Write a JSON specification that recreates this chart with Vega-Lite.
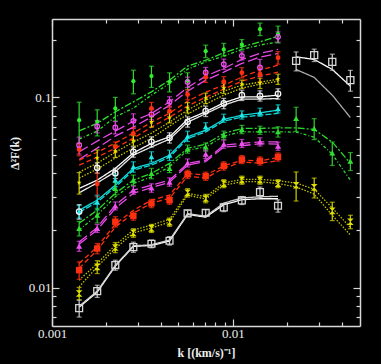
{
"$schema":"https://vega.github.io/schema/vega-lite/v6.json",
"width":308,"height":307,
"autosize":{"type":"none"},
"padding":{"left":52,"top":19,"right":21,"bottom":38},
"background":"#000000",
"datasets":{
"pts":[
{"s":"G1","k":0.001413,"v":0.0757,"e":0.0184},{"s":"G1","k":0.001778,"v":0.0742,"e":0.0116},{"s":"G1","k":0.002239,"v":0.0873,"e":0.0124},{"s":"G1","k":0.002818,"v":0.1213,"e":0.0172},{"s":"G1","k":0.003548,"v":0.1289,"e":0.0165},{"s":"G1","k":0.004467,"v":0.1203,"e":0.0138},{"s":"G1","k":0.005623,"v":0.1218,"e":0.0124},{"s":"G1","k":0.007079,"v":0.1743,"e":0.0131},{"s":"G1","k":0.008913,"v":0.1779,"e":0.0134},{"s":"G1","k":0.01122,"v":0.1886,"e":0.0118},{"s":"G1","k":0.01413,"v":0.2274,"e":0.0171},{"s":"G1","k":0.01778,"v":0.2141,"e":0.0217},
{"s":"M1","k":0.001413,"v":0.056,"e":0.0057},{"s":"M1","k":0.001778,"v":0.0702,"e":0.0053},{"s":"M1","k":0.002239,"v":0.0693,"e":0.0052},{"s":"M1","k":0.002818,"v":0.0751,"e":0.0066},{"s":"M1","k":0.003548,"v":0.0812,"e":0.0051},{"s":"M1","k":0.004467,"v":0.0945,"e":0.0059},{"s":"M1","k":0.005623,"v":0.1199,"e":0.0075},{"s":"M1","k":0.007079,"v":0.1348,"e":0.0084},{"s":"M1","k":0.008913,"v":0.149,"e":0.0093},{"s":"M1","k":0.01122,"v":0.1647,"e":0.0082},{"s":"M1","k":0.01413,"v":0.1432,"e":0.0145},{"s":"M1","k":0.01778,"v":0.2072,"e":0.0129},
{"s":"R1","k":0.001413,"v":0.0532,"e":0.004},{"s":"R1","k":0.001778,"v":0.035,"e":0.005},{"s":"R1","k":0.002239,"v":0.0548,"e":0.0034},{"s":"R1","k":0.002818,"v":0.0645,"e":0.0048},{"s":"R1","k":0.003548,"v":0.0873,"e":0.0066},{"s":"R1","k":0.004467,"v":0.0844,"e":0.0053},{"s":"R1","k":0.005623,"v":0.1033,"e":0.0064},{"s":"R1","k":0.007079,"v":0.1273,"e":0.0079},{"s":"R1","k":0.008913,"v":0.1206,"e":0.0075},{"s":"R1","k":0.01122,"v":0.1344,"e":0.0084},{"s":"R1","k":0.01413,"v":0.132,"e":0.0119},{"s":"R1","k":0.01778,"v":0.1611,"e":0.0121},
{"s":"Y1","k":0.001413,"v":0.0356,"e":0.0046},{"s":"Y1","k":0.001778,"v":0.0479,"e":0.0049},{"s":"Y1","k":0.002239,"v":0.0521,"e":0.0039},{"s":"Y1","k":0.002818,"v":0.0591,"e":0.0037},{"s":"Y1","k":0.003548,"v":0.0742,"e":0.0046},{"s":"Y1","k":0.004467,"v":0.0782,"e":0.0049},{"s":"Y1","k":0.005623,"v":0.0881,"e":0.0055},{"s":"Y1","k":0.007079,"v":0.0988,"e":0.0062},{"s":"Y1","k":0.008913,"v":0.1115,"e":0.007},{"s":"Y1","k":0.01122,"v":0.117,"e":0.0058},{"s":"Y1","k":0.01413,"v":0.1184,"e":0.0074},{"s":"Y1","k":0.01778,"v":0.1243,"e":0.0077},
{"s":"W1","k":0.001413,"v":0.0251,"e":0.0022},{"s":"W1","k":0.001778,"v":0.0426,"e":0.0027},{"s":"W1","k":0.002239,"v":0.0399,"e":0.0025},{"s":"W1","k":0.002818,"v":0.0516,"e":0.0032},{"s":"W1","k":0.003548,"v":0.0583,"e":0.0036},{"s":"W1","k":0.004467,"v":0.0612,"e":0.0038},{"s":"W1","k":0.005623,"v":0.0742,"e":0.0046},{"s":"W1","k":0.007079,"v":0.0844,"e":0.0053},{"s":"W1","k":0.008913,"v":0.0927,"e":0.0058},{"s":"W1","k":0.01122,"v":0.1024,"e":0.0064},{"s":"W1","k":0.01413,"v":0.1016,"e":0.0063},{"s":"W1","k":0.01778,"v":0.1041,"e":0.0065},
{"s":"C1","k":0.001413,"v":0.0251,"e":0.0019},{"s":"C1","k":0.001778,"v":0.0281,"e":0.0025},{"s":"C1","k":0.002239,"v":0.0367,"e":0.0028},{"s":"C1","k":0.002818,"v":0.0431,"e":0.0027},{"s":"C1","k":0.003548,"v":0.0487,"e":0.003},{"s":"C1","k":0.004467,"v":0.0496,"e":0.0031},{"s":"C1","k":0.005623,"v":0.0624,"e":0.0039},{"s":"C1","k":0.007079,"v":0.0699,"e":0.0035},{"s":"C1","k":0.008913,"v":0.0776,"e":0.0038},{"s":"C1","k":0.01122,"v":0.0807,"e":0.004},{"s":"C1","k":0.01413,"v":0.0834,"e":0.0041},{"s":"C1","k":0.01778,"v":0.0868,"e":0.0043},
{"s":"G2","k":0.001413,"v":0.0205,"e":0.0018},{"s":"G2","k":0.001778,"v":0.024,"e":0.0021},{"s":"G2","k":0.002239,"v":0.0332,"e":0.0025},{"s":"G2","k":0.002818,"v":0.0367,"e":0.0023},{"s":"G2","k":0.003548,"v":0.0398,"e":0.0025},{"s":"G2","k":0.004467,"v":0.0423,"e":0.0021},{"s":"G2","k":0.005623,"v":0.0534,"e":0.0026},{"s":"G2","k":0.007079,"v":0.0548,"e":0.0027},{"s":"G2","k":0.008913,"v":0.0632,"e":0.0031},{"s":"G2","k":0.01122,"v":0.0677,"e":0.0034},{"s":"G2","k":0.01413,"v":0.0671,"e":0.0033},{"s":"G2","k":0.01778,"v":0.0658,"e":0.0041},{"s":"G2","k":0.02239,"v":0.0773,"e":0.0112},{"s":"G2","k":0.02818,"v":0.0685,"e":0.0086},{"s":"G2","k":0.03548,"v":0.051,"e":0.0072},{"s":"G2","k":0.04467,"v":0.0462,"e":0.005},
{"s":"M2","k":0.001413,"v":0.01653,"e":0.001},{"s":"M2","k":0.001778,"v":0.0205,"e":0.001},{"s":"M2","k":0.002239,"v":0.0269,"e":0.0013},{"s":"M2","k":0.002818,"v":0.0325,"e":0.0016},{"s":"M2","k":0.003548,"v":0.0334,"e":0.0017},{"s":"M2","k":0.004467,"v":0.0359,"e":0.0018},{"s":"M2","k":0.005623,"v":0.0452,"e":0.0022},{"s":"M2","k":0.007079,"v":0.0502,"e":0.0025},{"s":"M2","k":0.008913,"v":0.0567,"e":0.0028},{"s":"M2","k":0.01122,"v":0.0572,"e":0.0028},{"s":"M2","k":0.01413,"v":0.0583,"e":0.0029},{"s":"M2","k":0.01778,"v":0.0553,"e":0.0027},
{"s":"R2","k":0.001413,"v":0.01237,"e":0.0013},{"s":"R2","k":0.001778,"v":0.01607,"e":0.001},{"s":"R2","k":0.002239,"v":0.0222,"e":0.0014},{"s":"R2","k":0.002818,"v":0.0238,"e":0.0012},{"s":"R2","k":0.003548,"v":0.0277,"e":0.0014},{"s":"R2","k":0.004467,"v":0.0288,"e":0.0014},{"s":"R2","k":0.005623,"v":0.0394,"e":0.002},{"s":"R2","k":0.007079,"v":0.0385,"e":0.0019},{"s":"R2","k":0.008913,"v":0.0436,"e":0.0022},{"s":"R2","k":0.01122,"v":0.0471,"e":0.0023},{"s":"R2","k":0.01413,"v":0.0463,"e":0.0023},{"s":"R2","k":0.01778,"v":0.0486,"e":0.0024},
{"s":"Y2","k":0.001413,"v":0.00933,"e":0.0007},{"s":"Y2","k":0.001778,"v":0.01287,"e":0.001},{"s":"Y2","k":0.002239,"v":0.01627,"e":0.001},{"s":"Y2","k":0.002818,"v":0.0194,"e":0.001},{"s":"Y2","k":0.003548,"v":0.0205,"e":0.001},{"s":"Y2","k":0.004467,"v":0.0221,"e":0.0011},{"s":"Y2","k":0.005623,"v":0.0315,"e":0.0016},{"s":"Y2","k":0.007079,"v":0.0294,"e":0.0015},{"s":"Y2","k":0.008913,"v":0.0352,"e":0.0017},{"s":"Y2","k":0.01122,"v":0.0367,"e":0.0018},{"s":"Y2","k":0.01413,"v":0.0367,"e":0.0018},{"s":"Y2","k":0.01778,"v":0.0352,"e":0.0017},{"s":"Y2","k":0.02239,"v":0.0345,"e":0.006},{"s":"Y2","k":0.02818,"v":0.0336,"e":0.004},{"s":"Y2","k":0.03548,"v":0.0253,"e":0.0028},{"s":"Y2","k":0.04467,"v":0.0222,"e":0.0018},
{"s":"W2","k":0.001413,"v":0.00782,"e":0.0008},{"s":"W2","k":0.001778,"v":0.0096,"e":0.0007},{"s":"W2","k":0.002239,"v":0.01315,"e":0.0008},{"s":"W2","k":0.002818,"v":0.01634,"e":0.001},{"s":"W2","k":0.003548,"v":0.01701,"e":0.0008},{"s":"W2","k":0.004467,"v":0.01764,"e":0.0009},{"s":"W2","k":0.005623,"v":0.02455,"e":0.0009},{"s":"W2","k":0.007079,"v":0.02474,"e":0.0009},{"s":"W2","k":0.008913,"v":0.02638,"e":0.0013},{"s":"W2","k":0.01122,"v":0.02871,"e":0.0014},{"s":"W2","k":0.01413,"v":0.03175,"e":0.002},{"s":"W2","k":0.01778,"v":0.02692,"e":0.002},
{"s":"W3","k":0.02239,"v":0.155,"e":0.0177},{"s":"W3","k":0.02818,"v":0.1661,"e":0.0124},{"s":"W3","k":0.03548,"v":0.1532,"e":0.0148},{"s":"W3","k":0.04467,"v":0.1228,"e":0.0154}
],
"lns":[
{"l":"G1a","k":0.001413,"v":0.0666},{"l":"G1a","k":0.001778,"v":0.0728},{"l":"G1a","k":0.002239,"v":0.0838},{"l":"G1a","k":0.002818,"v":0.0945},{"l":"G1a","k":0.003548,"v":0.1066},{"l":"G1a","k":0.004467,"v":0.1228},{"l":"G1a","k":0.005623,"v":0.1455},{"l":"G1a","k":0.007079,"v":0.1563},{"l":"G1a","k":0.008913,"v":0.1708},{"l":"G1a","k":0.01122,"v":0.1836},{"l":"G1a","k":0.01413,"v":0.195},{"l":"G1a","k":0.01778,"v":0.2089},
{"l":"G1b","k":0.001413,"v":0.0602},{"l":"G1b","k":0.001778,"v":0.0663},{"l":"G1b","k":0.002239,"v":0.0788},{"l":"G1b","k":0.002818,"v":0.0876},{"l":"G1b","k":0.003548,"v":0.1024},{"l":"G1b","k":0.004467,"v":0.118},{"l":"G1b","k":0.005623,"v":0.1402},{"l":"G1b","k":0.007079,"v":0.1532},{"l":"G1b","k":0.008913,"v":0.1641},{"l":"G1b","k":0.01122,"v":0.1779},{"l":"G1b","k":0.01413,"v":0.1875},{"l":"G1b","k":0.01778,"v":0.195},
{"l":"M1a","k":0.001413,"v":0.0516},{"l":"M1a","k":0.001778,"v":0.0588},{"l":"M1a","k":0.002239,"v":0.0663},{"l":"M1a","k":0.002818,"v":0.0748},{"l":"M1a","k":0.003548,"v":0.0821},{"l":"M1a","k":0.004467,"v":0.0945},{"l":"M1a","k":0.005623,"v":0.1124},{"l":"M1a","k":0.007079,"v":0.1289},{"l":"M1a","k":0.008913,"v":0.1415},{"l":"M1a","k":0.01122,"v":0.1577},{"l":"M1a","k":0.01413,"v":0.1696},{"l":"M1a","k":0.01778,"v":0.1779},
{"l":"M1b","k":0.001413,"v":0.0471},{"l":"M1b","k":0.001778,"v":0.054},{"l":"M1b","k":0.002239,"v":0.0624},{"l":"M1b","k":0.002818,"v":0.0696},{"l":"M1b","k":0.003548,"v":0.0788},{"l":"M1b","k":0.004467,"v":0.0908},{"l":"M1b","k":0.005623,"v":0.1075},{"l":"M1b","k":0.007079,"v":0.1228},{"l":"M1b","k":0.008913,"v":0.1353},{"l":"M1b","k":0.01122,"v":0.1502},{"l":"M1b","k":0.01413,"v":0.1622},{"l":"M1b","k":0.01778,"v":0.1696},
{"l":"R1a","k":0.001413,"v":0.0467},{"l":"R1a","k":0.001778,"v":0.0514},{"l":"R1a","k":0.002239,"v":0.0574},{"l":"R1a","k":0.002818,"v":0.0648},{"l":"R1a","k":0.003548,"v":0.0739},{"l":"R1a","k":0.004467,"v":0.0824},{"l":"R1a","k":0.005623,"v":0.0953},{"l":"R1a","k":0.007079,"v":0.1062},{"l":"R1a","k":0.008913,"v":0.1156},{"l":"R1a","k":0.01122,"v":0.1273},{"l":"R1a","k":0.01413,"v":0.1386},{"l":"R1a","k":0.01778,"v":0.1472},
{"l":"R1b","k":0.001413,"v":0.044},{"l":"R1b","k":0.001778,"v":0.0484},{"l":"R1b","k":0.002239,"v":0.054},{"l":"R1b","k":0.002818,"v":0.0609},{"l":"R1b","k":0.003548,"v":0.0696},{"l":"R1b","k":0.004467,"v":0.0785},{"l":"R1b","k":0.005623,"v":0.0897},{"l":"R1b","k":0.007079,"v":0.1},{"l":"R1b","k":0.008913,"v":0.1101},{"l":"R1b","k":0.01122,"v":0.1213},{"l":"R1b","k":0.01413,"v":0.1289},{"l":"R1b","k":0.01778,"v":0.1353},
{"l":"Y1a","k":0.001413,"v":0.0404},{"l":"Y1a","k":0.001778,"v":0.045},{"l":"Y1a","k":0.002239,"v":0.0514},{"l":"Y1a","k":0.002818,"v":0.0581},{"l":"Y1a","k":0.003548,"v":0.0648},{"l":"Y1a","k":0.004467,"v":0.0739},{"l":"Y1a","k":0.005623,"v":0.0855},{"l":"Y1a","k":0.007079,"v":0.0965},{"l":"Y1a","k":0.008913,"v":0.1075},{"l":"Y1a","k":0.01122,"v":0.1156},{"l":"Y1a","k":0.01413,"v":0.1199},{"l":"Y1a","k":0.01778,"v":0.1243},
{"l":"Y1b","k":0.001413,"v":0.0376},{"l":"Y1b","k":0.001778,"v":0.0419},{"l":"Y1b","k":0.002239,"v":0.0479},{"l":"Y1b","k":0.002818,"v":0.054},{"l":"Y1b","k":0.003548,"v":0.0609},{"l":"Y1b","k":0.004467,"v":0.0705},{"l":"Y1b","k":0.005623,"v":0.0814},{"l":"Y1b","k":0.007079,"v":0.0919},{"l":"Y1b","k":0.008913,"v":0.1024},{"l":"Y1b","k":0.01122,"v":0.1115},{"l":"Y1b","k":0.01413,"v":0.117},{"l":"Y1b","k":0.01778,"v":0.1213},
{"l":"W1a","k":0.001413,"v":0.0332},{"l":"W1a","k":0.001778,"v":0.0367},{"l":"W1a","k":0.002239,"v":0.0423},{"l":"W1a","k":0.002818,"v":0.051},{"l":"W1a","k":0.003548,"v":0.0572},{"l":"W1a","k":0.004467,"v":0.0619},{"l":"W1a","k":0.005623,"v":0.0764},{"l":"W1a","k":0.007079,"v":0.0838},{"l":"W1a","k":0.008913,"v":0.0934},{"l":"W1a","k":0.01122,"v":0.1004},{"l":"W1a","k":0.01413,"v":0.1004},{"l":"W1a","k":0.01778,"v":0.1024},
{"l":"W1b","k":0.001413,"v":0.0315},{"l":"W1b","k":0.001778,"v":0.0355},{"l":"W1b","k":0.002239,"v":0.0406},{"l":"W1b","k":0.002818,"v":0.0496},{"l":"W1b","k":0.003548,"v":0.0548},{"l":"W1b","k":0.004467,"v":0.0602},{"l":"W1b","k":0.005623,"v":0.0739},{"l":"W1b","k":0.007079,"v":0.0819},{"l":"W1b","k":0.008913,"v":0.0908},{"l":"W1b","k":0.01122,"v":0.0976},{"l":"W1b","k":0.01413,"v":0.0976},{"l":"W1b","k":0.01778,"v":0.0984},
{"l":"C1a","k":0.001413,"v":0.0255},{"l":"C1a","k":0.001778,"v":0.0288},{"l":"C1a","k":0.002239,"v":0.0345},{"l":"C1a","k":0.002818,"v":0.0423},{"l":"C1a","k":0.003548,"v":0.0449},{"l":"C1a","k":0.004467,"v":0.0496},{"l":"C1a","k":0.005623,"v":0.0619},{"l":"C1a","k":0.007079,"v":0.0671},{"l":"C1a","k":0.008913,"v":0.0764},{"l":"C1a","k":0.01122,"v":0.0804},{"l":"C1a","k":0.01413,"v":0.0827},{"l":"C1a","k":0.01778,"v":0.0855},
{"l":"C1b","k":0.001413,"v":0.0249},{"l":"C1b","k":0.001778,"v":0.0281},{"l":"C1b","k":0.002239,"v":0.0337},{"l":"C1b","k":0.002818,"v":0.0414},{"l":"C1b","k":0.003548,"v":0.044},{"l":"C1b","k":0.004467,"v":0.0484},{"l":"C1b","k":0.005623,"v":0.0606},{"l":"C1b","k":0.007079,"v":0.0658},{"l":"C1b","k":0.008913,"v":0.0748},{"l":"C1b","k":0.01122,"v":0.0785},{"l":"C1b","k":0.01413,"v":0.0804},{"l":"C1b","k":0.01778,"v":0.0821},
{"l":"G2a","k":0.001413,"v":0.0218},{"l":"G2a","k":0.001778,"v":0.0255},{"l":"G2a","k":0.002239,"v":0.0313},{"l":"G2a","k":0.002818,"v":0.0367},{"l":"G2a","k":0.003548,"v":0.0398},{"l":"G2a","k":0.004467,"v":0.0449},{"l":"G2a","k":0.005623,"v":0.0538},{"l":"G2a","k":0.007079,"v":0.0567},{"l":"G2a","k":0.008913,"v":0.0645},{"l":"G2a","k":0.01122,"v":0.0685},{"l":"G2a","k":0.01413,"v":0.0685},{"l":"G2a","k":0.01778,"v":0.069},{"l":"G2a","k":0.02239,"v":0.069},{"l":"G2a","k":0.02818,"v":0.0677},{"l":"G2a","k":0.03548,"v":0.0581},{"l":"G2a","k":0.04467,"v":0.045},
{"l":"G2b","k":0.001413,"v":0.0201},{"l":"G2b","k":0.001778,"v":0.024},{"l":"G2b","k":0.002239,"v":0.03},{"l":"G2b","k":0.002818,"v":0.0352},{"l":"G2b","k":0.003548,"v":0.0382},{"l":"G2b","k":0.004467,"v":0.0431},{"l":"G2b","k":0.005623,"v":0.0527},{"l":"G2b","k":0.007079,"v":0.0548},{"l":"G2b","k":0.008913,"v":0.0624},{"l":"G2b","k":0.01122,"v":0.0658},{"l":"G2b","k":0.01413,"v":0.0658},{"l":"G2b","k":0.01778,"v":0.0658},{"l":"G2b","k":0.02239,"v":0.0655},{"l":"G2b","k":0.02818,"v":0.0617},{"l":"G2b","k":0.03548,"v":0.0502},{"l":"G2b","k":0.04467,"v":0.0367},
{"l":"M2a","k":0.001413,"v":0.0174},{"l":"M2a","k":0.001778,"v":0.0207},{"l":"M2a","k":0.002239,"v":0.0271},{"l":"M2a","k":0.002818,"v":0.0325},{"l":"M2a","k":0.003548,"v":0.0345},{"l":"M2a","k":0.004467,"v":0.0367},{"l":"M2a","k":0.005623,"v":0.0449},{"l":"M2a","k":0.007079,"v":0.0467},{"l":"M2a","k":0.008913,"v":0.056},{"l":"M2a","k":0.01122,"v":0.0572},{"l":"M2a","k":0.01413,"v":0.0583},{"l":"M2a","k":0.01778,"v":0.0583},
{"l":"M2b","k":0.001413,"v":0.0169},{"l":"M2b","k":0.001778,"v":0.0201},{"l":"M2b","k":0.002239,"v":0.0261},{"l":"M2b","k":0.002818,"v":0.0313},{"l":"M2b","k":0.003548,"v":0.0335},{"l":"M2b","k":0.004467,"v":0.0358},{"l":"M2b","k":0.005623,"v":0.044},{"l":"M2b","k":0.007079,"v":0.0459},{"l":"M2b","k":0.008913,"v":0.0547},{"l":"M2b","k":0.01122,"v":0.0556},{"l":"M2b","k":0.01413,"v":0.057},{"l":"M2b","k":0.01778,"v":0.0567},
{"l":"R2a","k":0.001413,"v":0.01341},{"l":"R2a","k":0.001778,"v":0.01639},{"l":"R2a","k":0.002239,"v":0.02157},{"l":"R2a","k":0.002818,"v":0.0255},{"l":"R2a","k":0.003548,"v":0.0288},{"l":"R2a","k":0.004467,"v":0.0306},{"l":"R2a","k":0.005623,"v":0.0398},{"l":"R2a","k":0.007079,"v":0.039},{"l":"R2a","k":0.008913,"v":0.0436},{"l":"R2a","k":0.01122,"v":0.0467},{"l":"R2a","k":0.01413,"v":0.0463},{"l":"R2a","k":0.01778,"v":0.0482},
{"l":"R2b","k":0.001413,"v":0.01267},{"l":"R2b","k":0.001778,"v":0.01575},{"l":"R2b","k":0.002239,"v":0.0208},{"l":"R2b","k":0.002818,"v":0.0246},{"l":"R2b","k":0.003548,"v":0.0278},{"l":"R2b","k":0.004467,"v":0.0295},{"l":"R2b","k":0.005623,"v":0.0385},{"l":"R2b","k":0.007079,"v":0.0376},{"l":"R2b","k":0.008913,"v":0.0424},{"l":"R2b","k":0.01122,"v":0.0456},{"l":"R2b","k":0.01413,"v":0.045},{"l":"R2b","k":0.01778,"v":0.0464},
{"l":"Y2a","k":0.001413,"v":0.01096},{"l":"Y2a","k":0.001778,"v":0.01341},{"l":"Y2a","k":0.002239,"v":0.01673},{"l":"Y2a","k":0.002818,"v":0.0201},{"l":"Y2a","k":0.003548,"v":0.0213},{"l":"Y2a","k":0.004467,"v":0.0229},{"l":"Y2a","k":0.005623,"v":0.0313},{"l":"Y2a","k":0.007079,"v":0.03},{"l":"Y2a","k":0.008913,"v":0.0355},{"l":"Y2a","k":0.01122,"v":0.037},{"l":"Y2a","k":0.01413,"v":0.037},{"l":"Y2a","k":0.01778,"v":0.0365},{"l":"Y2a","k":0.02239,"v":0.0354},{"l":"Y2a","k":0.02818,"v":0.0329},{"l":"Y2a","k":0.03548,"v":0.0262},{"l":"Y2a","k":0.04467,"v":0.0207},
{"l":"Y2b","k":0.001413,"v":0.01011},{"l":"Y2b","k":0.001778,"v":0.01287},{"l":"Y2b","k":0.002239,"v":0.01607},{"l":"Y2b","k":0.002818,"v":0.0194},{"l":"Y2b","k":0.003548,"v":0.0206},{"l":"Y2b","k":0.004467,"v":0.0221},{"l":"Y2b","k":0.005623,"v":0.0306},{"l":"Y2b","k":0.007079,"v":0.0292},{"l":"Y2b","k":0.008913,"v":0.0345},{"l":"Y2b","k":0.01122,"v":0.036},{"l":"Y2b","k":0.01413,"v":0.036},{"l":"Y2b","k":0.01778,"v":0.0352},{"l":"Y2b","k":0.02239,"v":0.0338},{"l":"Y2b","k":0.02818,"v":0.031},{"l":"Y2b","k":0.03548,"v":0.024},{"l":"Y2b","k":0.04467,"v":0.0189},
{"l":"W2a","k":0.001413,"v":0.00791},{"l":"W2a","k":0.001778,"v":0.00948},{"l":"W2a","k":0.002239,"v":0.01298},{"l":"W2a","k":0.002818,"v":0.01648},{"l":"W2a","k":0.003548,"v":0.01667},{"l":"W2a","k":0.004467,"v":0.01757},{"l":"W2a","k":0.005623,"v":0.02424},{"l":"W2a","k":0.007079,"v":0.02346},{"l":"W2a","k":0.008913,"v":0.02726},{"l":"W2a","k":0.01122,"v":0.02897},{"l":"W2a","k":0.01413,"v":0.0293},{"l":"W2a","k":0.01778,"v":0.0293},
{"l":"W2b","k":0.001413,"v":0.008},{"l":"W2b","k":0.001778,"v":0.0096},{"l":"W2b","k":0.002239,"v":0.0131},{"l":"W2b","k":0.002818,"v":0.0166},{"l":"W2b","k":0.003548,"v":0.0168},{"l":"W2b","k":0.004467,"v":0.0178},{"l":"W2b","k":0.005623,"v":0.0245},{"l":"W2b","k":0.007079,"v":0.0237},{"l":"W2b","k":0.008913,"v":0.0278},{"l":"W2b","k":0.01122,"v":0.0296},{"l":"W2b","k":0.01413,"v":0.03},{"l":"W2b","k":0.01778,"v":0.0302},
{"l":"W3a","k":0.02239,"v":0.1627},{"l":"W3a","k":0.02818,"v":0.1577},{"l":"W3a","k":0.03548,"v":0.1397},{"l":"W3a","k":0.04467,"v":0.1142},
{"l":"W3b","k":0.02239,"v":0.1397},{"l":"W3b","k":0.02818,"v":0.1269},{"l":"W3b","k":0.03548,"v":0.1024},{"l":"W3b","k":0.04467,"v":0.0782}
]},
"layer":[
{"data":{"name":"lns"},
 "mark":{"type":"line","strokeWidth":1.3,"clip":true},
 "encoding":{
  "x":{"field":"k","type":"quantitative","scale":{"type":"log","domain":[0.001,0.0505],"nice":false},
   "axis":{"orient":"bottom","values":[0.001,0.002,0.003,0.004,0.005,0.006,0.007,0.008,0.009,0.01,0.02,0.03,0.04],
    "labelExpr":"datum.value==0.001?'0.001':datum.value==0.01?'0.01':''",
    "tickSize":{"condition":{"test":"datum.value==0.001||datum.value==0.01","value":-7},"value":-4},
    "labelPadding":8,"labelFlush":false,"labelOverlap":false,"labelBound":false,
    "title":"k  [(km/s)⁻¹]","titleFontSize":12,"titlePadding":4}},
  "y":{"field":"v","type":"quantitative","scale":{"type":"log","domain":[0.0063,0.257],"nice":false},
   "axis":{"orient":"left","values":[0.007,0.008,0.009,0.01,0.02,0.03,0.04,0.05,0.06,0.07,0.08,0.09,0.1,0.2],
    "labelExpr":"datum.value==0.01?'0.01':datum.value==0.1?'0.1':''",
    "tickSize":{"condition":{"test":"datum.value==0.01||datum.value==0.1","value":-7},"value":-4},
    "labelPadding":8,"labelFlush":false,"labelOverlap":false,"labelBound":false,
    "title":"Δ²F(k)","titleFontSize":12,"titleX":-31,"titleY":134}},
  "color":{"field":"l","type":"nominal","legend":null,"scale":{
   "domain":["G1a","G1b","M1a","M1b","R1a","R1b","Y1a","Y1b","W1a","W1b","C1a","C1b","G2a","G2b","M2a","M2b","R2a","R2b","Y2a","Y2b","W2a","W2b","W3a","W3b"],
   "range":["#2ee02e","#2ee02e","#e848e8","#e848e8","#ff3010","#ff3010","#c8c800","#c8c800","#ffffff","#e8e8e8","#10dada","#10dada","#2ed42e","#2ed42e","#e848e8","#e848e8","#ff3010","#ff3010","#c0c000","#c0c000","#ffffff","#d0d0d0","#ffffff","#a8a8a8"]}},
  "strokeDash":{"field":"l","type":"nominal","legend":null,"scale":{
   "domain":["G1a","G1b","M1a","M1b","R1a","R1b","Y1a","Y1b","W1a","W1b","C1a","C1b","G2a","G2b","M2a","M2b","R2a","R2b","Y2a","Y2b","W2a","W2b","W3a","W3b"],
   "range":[[7,2,2,2],[3,2,1,2],[10,4],[10,4],[5,3],[5,3],[1.5,1.5],[1.5,1.5],[1,0],[1,0],[1,0],[6,2],[7,2,2,2],[3,2,1,2],[10,4],[10,4],[5,3],[5,3],[1.5,1.5],[1.5,1.5],[1,0],[1,0],[1,0],[1,0]]}},
  "detail":{"field":"l"}
 }},
{"data":{"name":"pts"},
 "mark":{"type":"errorbar","ticks":{"size":5,"thickness":1.2},"rule":{"strokeWidth":1.2}},
 "encoding":{
  "x":{"field":"k","type":"quantitative","axis":null},
  "y":{"field":"v","type":"quantitative","axis":null},
  "yError":{"field":"e"},
  "color":{"field":"s","type":"nominal","legend":null,"scale":{
   "domain":["G1","M1","R1","Y1","W1","C1","G2","M2","R2","Y2","W2","W3"],
   "range":["#2ee02e","#e848e8","#ff3010","#d8d800","#e8e8e8","#10dada","#2ed42e","#e848e8","#ff3010","#d0d000","#d0d0d0","#d0d0d0"]}}
 }},
{"data":{"name":"pts"},
 "transform":[{"filter":"indexof(['M1','W1','W2','W3'], datum.s) < 0"}],
 "mark":{"type":"point","filled":true,"opacity":1},
 "encoding":{
  "x":{"field":"k","type":"quantitative","axis":null},
  "y":{"field":"v","type":"quantitative","axis":null},
  "color":{"field":"s","type":"nominal","legend":null,"scale":{
   "domain":["G1","M1","R1","Y1","W1","C1","G2","M2","R2","Y2","W2","W3"],
   "range":["#30ee30","#ee50ee","#ff3010","#e8e800","#f4f4f4","#20e8e8","#30e030","#ee50ee","#ff3010","#dede00","#d8d8d8","#d8d8d8"]}},
  "shape":{"field":"s","type":"nominal","legend":null,"scale":{
   "domain":["G1","M1","R1","Y1","W1","C1","G2","M2","R2","Y2","W2","W3"],
   "range":["circle","circle","circle","M0,-1L0.235,-0.324L0.951,-0.309L0.38,0.124L0.588,0.809L0,0.4L-0.588,0.809L-0.38,0.124L-0.951,-0.309L-0.235,-0.324Z","circle","triangle-up","triangle-up","triangle-up","square","M-1,-1L1,-1L-1,1L1,1Z","square","square"]}},
  "size":{"field":"s","type":"nominal","legend":null,"scale":{
   "domain":["G1","M1","R1","Y1","W1","C1","G2","M2","R2","Y2","W2","W3"],
   "range":[18,50,26,38,32,20,18,26,20,24,26,28]}}
 }},
{"data":{"name":"pts"},
 "transform":[{"filter":"indexof(['M1','W1','W2','W3'], datum.s) >= 0"}],
 "mark":{"type":"point","filled":false,"strokeWidth":1.3,"opacity":1},
 "encoding":{
  "x":{"field":"k","type":"quantitative",
   "axis":{"orient":"top","values":[0.001,0.002,0.003,0.004,0.005,0.006,0.007,0.008,0.009,0.01,0.02,0.03,0.04],"labels":false,"title":null,
    "tickSize":{"condition":{"test":"datum.value==0.001||datum.value==0.01","value":-7},"value":-4}}},
  "y":{"field":"v","type":"quantitative",
   "axis":{"orient":"right","values":[0.007,0.008,0.009,0.01,0.02,0.03,0.04,0.05,0.06,0.07,0.08,0.09,0.1,0.2],"labels":false,"title":null,
    "tickSize":{"condition":{"test":"datum.value==0.01||datum.value==0.1","value":-7},"value":-4}}},
  "color":{"field":"s","type":"nominal","legend":null,"scale":{
   "domain":["G1","M1","R1","Y1","W1","C1","G2","M2","R2","Y2","W2","W3"],
   "range":["#30ee30","#ee50ee","#ff3010","#e8e800","#f4f4f4","#20e8e8","#30e030","#ee50ee","#ff3010","#dede00","#d8d8d8","#d8d8d8"]}},
  "shape":{"field":"s","type":"nominal","legend":null,"scale":{
   "domain":["G1","M1","R1","Y1","W1","C1","G2","M2","R2","Y2","W2","W3"],
   "range":["circle","circle","circle","M0,-1L0.235,-0.324L0.951,-0.309L0.38,0.124L0.588,0.809L0,0.4L-0.588,0.809L-0.38,0.124L-0.951,-0.309L-0.235,-0.324Z","circle","triangle-up","triangle-up","triangle-up","square","M-1,-1L1,-1L-1,1L1,1Z","square","square"]}},
  "size":{"field":"s","type":"nominal","legend":null,"scale":{
   "domain":["G1","M1","R1","Y1","W1","C1","G2","M2","R2","Y2","W2","W3"],
   "range":[18,50,26,38,32,20,18,26,20,24,26,28]}}
 }}
],
"resolve":{"axis":{"x":"independent","y":"independent"},"scale":{"color":"independent","shape":"independent","size":"independent"}},
"config":{
 "view":{"stroke":null},
 "axis":{"grid":false,"domainColor":"#d8d8d8","domainWidth":1.5,"tickColor":"#d8d8d8","tickWidth":1.2,
  "labelColor":"#eeeeee","labelFont":"Liberation Serif","labelFontSize":13,
  "titleColor":"#eeeeee","titleFont":"Liberation Serif","titleFontWeight":"bold"}
}
}
